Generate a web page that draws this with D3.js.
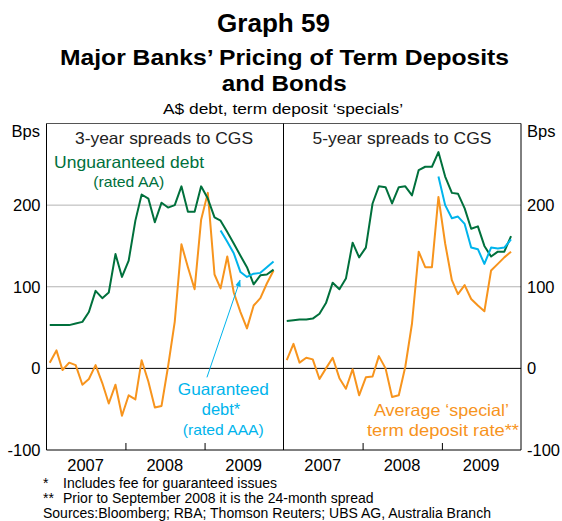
<!DOCTYPE html>
<html><head><meta charset="utf-8">
<script src="https://cdn.jsdelivr.net/npm/d3@7"></script>
<style>
html,body{margin:0;padding:0;background:#fff;}
svg{display:block;font-family:"Liberation Sans",Arial,sans-serif;}
</style></head>
<body><svg id="c" width="562" height="521"></svg>
<script>
// ---- data (monthly, Jan 2007 – Nov 2009) ----
const nMonths = 35;
const yearLabels = ["2007", "2008", "2009"];
const yTicks = [-100, 0, 100, 200];
const gridValues = [100, 200];

const unguar3 = [53,53,53,53,55,57,69,95,86,93,140,112,132,181,213,208,179,203,197,200,223,192,192,223,208,185,181,167,153,138,124,103,114,115,121];
const special3 = [7,22,-2,7,4,-20,-13,4,-18,-43,-20,-58,-33,-38,10,-16,-48,-46,2,57,152,124,97,182,215,115,98,137,93,69,49,77,86,104,120];
const guar3 = [null,null,null,null,null,null,null,null,null,null,null,null,null,null,null,null,null,null,null,null,null,null,null,null,null,null,169,155,141,118,112,116,117,124,131];

const unguar5 = [58,59,60,60,61,67,80,105,97,110,154,136,148,202,223,222,202,222,223,212,243,247,247,265,235,215,214,196,171,174,150,137,143,143,162];
const special5 = [10,30,7,13,11,-13,0,13,-12,-25,-1,-33,-11,-10,15,0,-35,-33,2,55,143,124,124,210,153,108,91,102,85,77,70,120,128,136,143];
const guar5 = [null,null,null,null,null,null,null,null,null,null,null,null,null,null,null,null,null,null,null,null,null,null,null,235,200,184,186,177,148,146,128,148,147,148,158];

const colGreen = "#00703c", colOrange = "#f7941d", colCyan = "#00b4ec";

// ---- layout ----
const svg = d3.select("#c");
const L = 46.5, M = 283.5, R = 521, T = 123.5, B = 450;
const y = d3.scaleLinear().domain([-100, 300]).range([B, T]);
const x1 = d3.scaleTime().domain([new Date(2007,0,1), new Date(2010,0,1)]).range([L, M]);
const x2 = d3.scaleTime().domain([new Date(2007,0,1), new Date(2010,0,1)]).range([M, R]);
const months = d3.range(nMonths).map(i => new Date(2007, i, 16));

function label(txt, cx, by, size, width, opts = {}) {
  const t = svg.append("text").attr("x", cx).attr("y", by).attr("text-anchor", "middle")
    .attr("font-size", size).attr("fill", opts.fill || "#000").text(txt);
  if (opts.bold) t.attr("font-weight", "bold");
  if (width) t.attr("textLength", width).attr("lengthAdjust", "spacingAndGlyphs");
  return t;
}

// titles
label("Graph 59", 273.5, 32, 25.5, 113, {bold: true});
label("Major Banks’ Pricing of Term Deposits", 284.5, 65, 22, 449, {bold: true});
label("and Bonds", 284.2, 91, 22, 125, {bold: true});
label("A$ debt, term deposit ‘specials’", 283, 114, 15.5, 240);

// gridlines
svg.append("g").selectAll("line").data(gridValues).join("line")
  .attr("x1", L).attr("x2", R).attr("y1", d => y(d)).attr("y2", d => y(d))
  .attr("stroke", "#b3b3b3").attr("stroke-width", 1);
svg.append("line").attr("x1", L).attr("x2", R).attr("y1", y(0)).attr("y2", y(0))
  .attr("stroke", "#000").attr("stroke-width", 1);

// y axes
const fmt = d => String(d);
const yAxisL = d3.axisLeft(y).tickValues(yTicks).tickSize(0).tickPadding(6).tickFormat(fmt);
const gl = svg.append("g").attr("transform", `translate(${L},0)`).call(yAxisL);
const yAxisR = d3.axisRight(y).tickValues(yTicks).tickSize(0).tickPadding(6).tickFormat(fmt);
const gr = svg.append("g").attr("transform", `translate(${R},0)`).call(yAxisR);
[gl, gr].forEach(g => {
  g.select(".domain").remove();
  g.selectAll("text").attr("font-size", 16.5).attr("fill", "#000")
    .attr("font-family", "Liberation Sans, Arial, sans-serif");
});
svg.append("text").attr("x", 40).attr("y", 137).attr("text-anchor","end")
  .attr("font-size", 16.5).text("Bps");
svg.append("text").attr("x", 527).attr("y", 137).attr("text-anchor","start")
  .attr("font-size", 16.5).text("Bps");

// x axes
[x1, x2].forEach(xs => {
  const ax = d3.axisBottom(xs).tickValues([new Date(2008,0,1), new Date(2009,0,1)])
    .tickSize(-7).tickFormat("");
  const g = svg.append("g").attr("transform", `translate(0,${B})`).call(ax);
  g.select(".domain").remove();
  g.selectAll("line").attr("stroke", "#000");
  svg.append("g").selectAll("text").data(yearLabels).join("text")
    .attr("x", d => xs(new Date(+d, 6, 1)))
    .attr("y", 471).attr("text-anchor","middle").attr("font-size", 16.5).attr("fill","#000")
    .text(d => d);
});

// frame
const frame = svg.append("g").attr("stroke", "#000").attr("stroke-width", 1).attr("fill","none");
frame.append("line").attr("x1", L).attr("x2", R).attr("y1", T).attr("y2", T).attr("stroke", "#555");
frame.append("line").attr("x1", L).attr("x2", R).attr("y1", B).attr("y2", B);
frame.append("line").attr("x1", L).attr("x2", L).attr("y1", T).attr("y2", B);
frame.append("line").attr("x1", R).attr("x2", R).attr("y1", T).attr("y2", B);
frame.append("line").attr("x1", M).attr("x2", M).attr("y1", T).attr("y2", B);

// panel titles
label("3-year spreads to CGS", 164, 144, 16.5, 178, {fill: "#222"});
label("5-year spreads to CGS", 402, 144, 16.5, 179, {fill: "#222"});

// lines
function drawLine(xs, vals, col) {
  const line = d3.line().defined(d => d[1] != null)
    .x(d => xs(d[0])).y(d => y(d[1]));
  svg.append("path").datum(months.map((m, i) => [m, vals[i]]))
    .attr("d", line).attr("fill","none").attr("stroke", col)
    .attr("stroke-width", 2).attr("stroke-linejoin","round");
}
drawLine(x1, special3, colOrange);
drawLine(x1, unguar3, colGreen);
drawLine(x1, guar3, colCyan);
drawLine(x2, special5, colOrange);
drawLine(x2, unguar5, colGreen);
drawLine(x2, guar5, colCyan);

// labels
label("Unguaranteed debt", 129, 168, 16.5, 150, {fill: colGreen});
label("(rated AA)", 128.7, 187, 14.5, 71, {fill: colGreen});
label("Guaranteed", 223.3, 395, 16.5, 91, {fill: colCyan});
label("debt*", 221, 415, 16.5, null, {fill: colCyan});
label("(rated AAA)", 223.3, 435, 15, 81, {fill: colCyan});
label("Average ‘special’", 441.5, 416, 16.5, 135, {fill: colOrange});
label("term deposit rate**", 443, 436, 16.5, 152, {fill: colOrange});

// arrow
const defs = svg.append("defs");
defs.append("marker").attr("id","ah").attr("viewBox","0 0 10 10").attr("refX", 9).attr("refY", 5)
  .attr("markerWidth", 7).attr("markerHeight", 7).attr("orient","auto")
  .append("path").attr("d","M0,1 L10,5 L0,9 z").attr("fill", colCyan);
const aFrom = [new Date(2009,0,12), -11], aTo = [new Date(2009,5,14), 108];
svg.append("line").attr("x1", x1(aFrom[0])).attr("y1", y(aFrom[1]))
  .attr("x2", x1(aTo[0])).attr("y2", y(aTo[1]))
  .attr("stroke", colCyan).attr("stroke-width", 1).attr("marker-end","url(#ah)");

// footnotes
const fn = svg.append("g").attr("font-size", 14).attr("fill","#000");
fn.append("text").attr("x", 43).attr("y", 488).text("*");
fn.append("text").attr("x", 63).attr("y", 488).text("Includes fee for guaranteed issues");
fn.append("text").attr("x", 43).attr("y", 503).text("**");
fn.append("text").attr("x", 63).attr("y", 503).text("Prior to September 2008 it is the 24-month spread");
fn.append("text").attr("x", 43).attr("y", 518).text("Sources:Bloomberg; RBA; Thomson Reuters; UBS AG, Australia Branch");
</script></body></html>
